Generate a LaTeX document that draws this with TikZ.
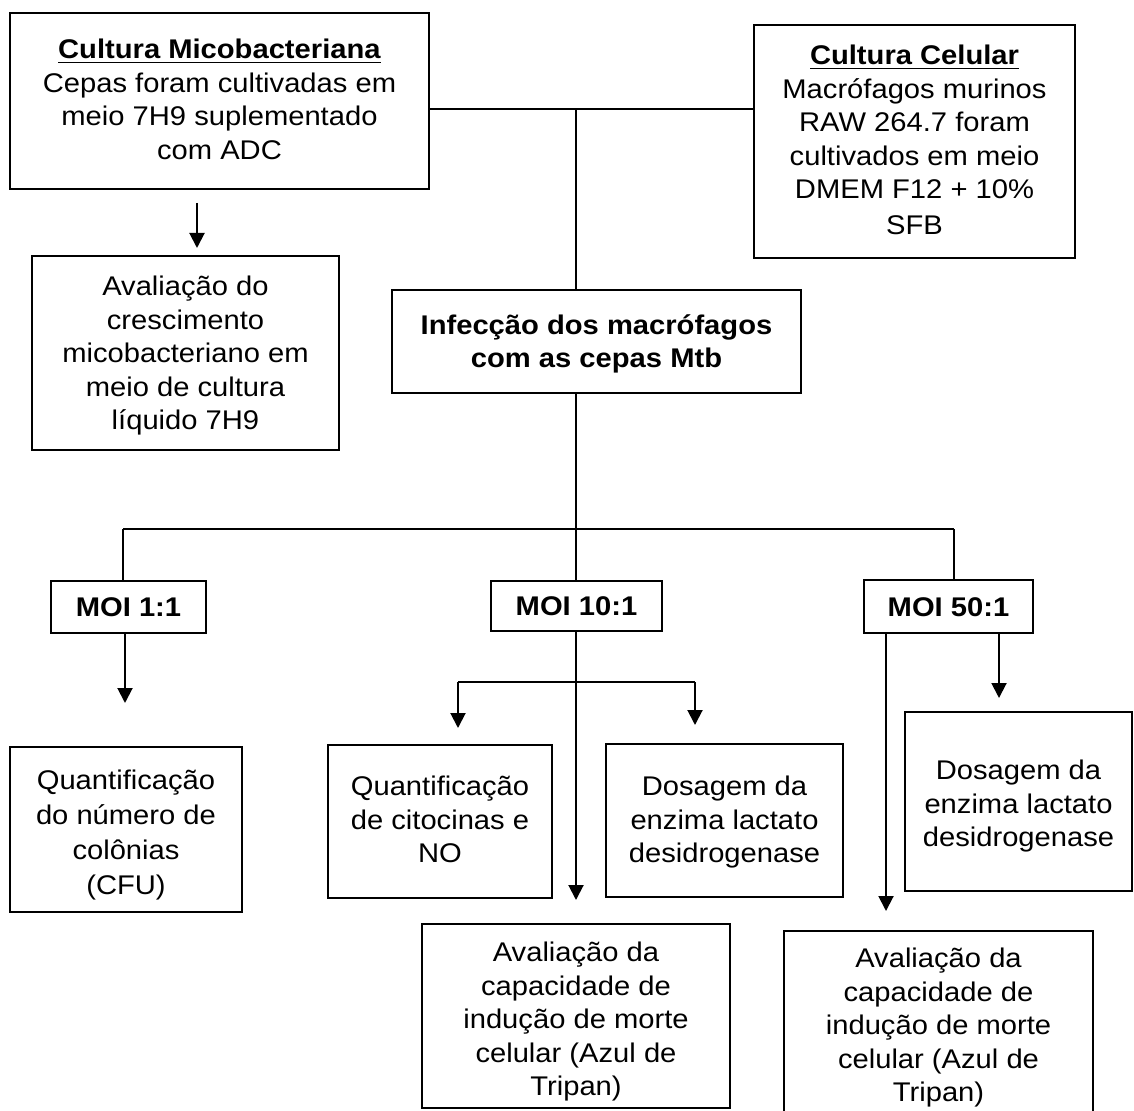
\documentclass[tikz,border=0pt]{standalone}
\usepackage{fontspec}
\setmainfont{Liberation Sans}[FakeStretch=1.08]
\usetikzlibrary{arrows.meta}
\newcommand{\boxtext}[2]{\raisebox{-#1}[\height][\depth]{\begin{tabular}{@{}c@{}}#2\end{tabular}}}
\begin{document}
\begin{tikzpicture}[x=0.5pt,y=-0.5pt,
  box/.style={draw=black,line width=1pt,inner sep=0pt,
    font={\fontsize{13.5pt}{16.75pt}\selectfont}},
  boldbox/.style={box,font={\fontsize{13.5pt}{16.5pt}\selectfont\bfseries}},
  conn/.style={draw=black,line width=0.55pt},
  arr/.style={draw=black,line width=1pt,-{Triangle[length=7.5pt,width=7.5pt]}}]
\useasboundingbox (0,0) rectangle (1134,1111);
\node[box,minimum width=209.5pt,minimum height=88pt] (A) at (219.5,101.5)
  {\boxtext{0.5pt}{\underline{\textbf{Cultura Micobacteriana}}\\Cepas foram cultivadas em\\meio 7H9 suplementado\\com ADC}};
\node[box,minimum width=160.5pt,minimum height=116.5pt] (B) at (914.5,142)
  {\boxtext{0.5pt}{\underline{\textbf{Cultura Celular}}\\Macrófagos murinos\\RAW 264.7 foram\\cultivados em meio\\DMEM F12 + 10\%\\[1pt]SFB}};
\node[box,minimum width=153.5pt,minimum height=97pt] (C) at (185.5,353)
  {\boxtext{1.5pt}{Avaliação do\\crescimento\\micobacteriano em\\meio de cultura\\líquido 7H9}};
\node[boldbox,minimum width=204.5pt,minimum height=51.5pt] (Inf) at (596.5,341.5)
  {\boxtext{1.5pt}{Infecção dos macrófagos\\com as cepas Mtb}};
\node[boldbox,minimum width=77.5pt,minimum height=26pt] (M1) at (128.5,607) {\boxtext{1.5pt}{MOI 1:1}};
\node[boldbox,minimum width=85.5pt,minimum height=25pt] (M10) at (576.5,606) {\boxtext{1.5pt}{MOI 10:1}};
\node[boldbox,minimum width=84.5pt,minimum height=26.5pt] (M50) at (948.5,606.5) {\boxtext{1.5pt}{MOI 50:1}};
\node[box,minimum width=116pt,minimum height=82.5pt,font={\fontsize{13.5pt}{17.5pt}\selectfont}] (D) at (126,829.5)
  {\boxtext{2.5pt}{Quantificação\\do número de\\colônias\\(CFU)}};
\node[box,minimum width=112pt,minimum height=76.5pt] (Q) at (440,821.5)
  {\boxtext{0.5pt}{Quantificação\\de citocinas e\\NO}};
\node[box,minimum width=118.5pt,minimum height=76.5pt] (L10) at (724.5,820.5)
  {\boxtext{1pt}{Dosagem da\\enzima lactato\\desidrogenase}};
\node[box,minimum width=154pt,minimum height=92pt] (AV10) at (576,1016)
  {\boxtext{3pt}{Avaliação da\\capacidade de\\indução de morte\\celular (Azul de\\Tripan)}};
\node[box,minimum width=113.5pt,minimum height=89.5pt] (L50) at (1018.5,801.5)
  {\boxtext{2.5pt}{Dosagem da\\enzima lactato\\desidrogenase}};
\node[box,minimum width=154.5pt,minimum height=91pt] (AV50) at (938.5,1022)
  {\boxtext{3pt}{Avaliação da\\capacidade de\\indução de morte\\celular (Azul de\\Tripan)}};
% junction coordinates
\coordinate (j1) at (576,109);
\coordinate (j2) at (576,529);
\coordinate (b1) at (123,529);
\coordinate (b3) at (954,529);
\coordinate (a0) at (197,203);
\coordinate (a1) at (197,248);
\coordinate (t1) at (125,703);
\coordinate (s10) at (576,682);
\coordinate (t10) at (576,900);
\coordinate (sl) at (458,682);
\coordinate (sr) at (695,682);
\coordinate (tl) at (458,728);
\coordinate (tr) at (695,725);
\coordinate (t50a) at (886,911);
\coordinate (t50b) at (999,698);
% connectors
\draw[arr] (a0) -- (a1);
\draw[conn] (A.east |- j1) -- (B.west |- j1);
\draw[conn] (j1) -- (j1 |- Inf.north);
\draw[conn] (j1 |- Inf.south) -- (j2);
\draw[conn] (b1) -- (b3);
\draw[conn] (b1) -- (b1 |- M1.north);
\draw[conn] (j2) -- (j2 |- M10.north);
\draw[conn] (b3) -- (b3 |- M50.north);
\draw[arr] (t1 |- M1.south) -- (t1);
\draw[conn] (s10 |- M10.south) -- (s10);
\draw[arr] (s10) -- (t10);
\draw[conn] (sl) -- (sr);
\draw[arr] (sl) -- (tl);
\draw[arr] (sr) -- (tr);
\draw[arr] (t50a |- M50.south) -- (t50a);
\draw[arr] (t50b |- M50.south) -- (t50b);
\end{tikzpicture}
\end{document}
